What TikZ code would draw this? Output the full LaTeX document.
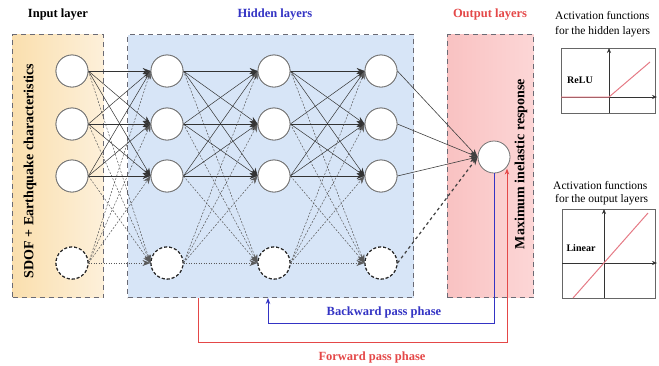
\documentclass[tikz,border=0pt]{standalone}
\usepackage{fontspec}
\setmainfont{Liberation Serif}
\usetikzlibrary{arrows.meta}
\definecolor{inL}{HTML}{FADFAE}
\definecolor{inR}{HTML}{FDF0DA}
\definecolor{hidbg}{HTML}{D7E5F7}
\definecolor{outL}{HTML}{F9C2C2}
\definecolor{outR}{HTML}{FCD6D6}
\definecolor{boxline}{HTML}{6A6A74}
\definecolor{bluel}{HTML}{3434C4}
\definecolor{redl}{HTML}{E44848}
\definecolor{relucol}{HTML}{E57A85}
\tikzset{
  layerbox/.style={draw=boxline, dash pattern=on 5pt off 4pt, line width=1pt, inner sep=0pt, anchor=north west},
  neuron/.style={circle, draw=black!55, fill=white, minimum size=32pt, inner sep=0pt, line width=0.8pt},
  dneuron/.style={circle, draw=black!85, dash pattern=on 3pt off 2pt, fill=white, minimum size=32pt, inner sep=0pt, line width=1.1pt},
  tip/.style={-{Stealth[length=8pt,width=6pt]}},
  sconn/.style={tip, draw=black!80, line width=0.5pt},
  dconn/.style={tip, draw=black!65, line width=0.5pt, dash pattern=on 2pt off 1.5pt},
  ddconn/.style={tip, draw=black!65, line width=0.5pt, dash pattern=on 1pt off 1.5pt},
  oconn/.style={tip, draw=black!75, line width=0.6pt},
  odconn/.style={tip, draw=black!75, line width=1.2pt, dash pattern=on 3pt off 3pt},
  titletxt/.style={font=\fontsize{12.5}{14}\selectfont\bfseries, inner sep=0pt},
  vlabel/.style={font=\fontsize{14}{16}\selectfont\bfseries, inner sep=0pt, rotate=90},
  phase/.style={font=\fontsize{12.5}{14}\selectfont\bfseries, inner sep=0pt},
  acttext/.style={font=\fontsize{11.5}{14}\selectfont, inner sep=0pt, anchor=west},
  actbox/.style={draw=black!60, line width=0.6pt},
  axisline/.style={draw=black!80, line width=0.6pt, -{Stealth[length=5pt,width=4pt]}},
  actlabel/.style={font=\fontsize{10}{12}\selectfont\bfseries, fill=white, inner sep=1pt},
  fbline/.style={line width=0.8pt, -{Stealth[length=6pt,width=4.5pt]}}
}
\begin{document}
\begin{tikzpicture}[x=1pt,y=-1pt]
\useasboundingbox (0,0) rectangle (659,365);
% layer boxes
\node[layerbox, left color=inL, right color=inR, minimum width=91pt, minimum height=263pt] (ibox) at (12,34) {};
\node[layerbox, fill=hidbg, minimum width=286pt, minimum height=263pt] (hbox) at (127,34) {};
\node[layerbox, left color=outL, right color=outR, minimum width=86pt, minimum height=263pt] (obox) at (447,34) {};
% titles
\node[titletxt] (tin) at (58,15) {Input layer};
\node[titletxt, text=bluel] (thid) at (275,15) {Hidden layers};
\node[titletxt, text=redl] (tout) at (490,15) {Output layers};
\node[vlabel] (tsdof) at (30,171) {SDOF + Earthquake characteristics};
\node[vlabel] (tmax) at (521,164) {Maximum inelastic response};
% neurons
\foreach \n/\x in {i/72, a/167, b/274, c/381}{
  \node[neuron] (\n1) at (\x,71) {};
  \node[neuron] (\n2) at (\x,124) {};
  \node[neuron] (\n3) at (\x,176) {};
  \node[dneuron] (\n4) at (\x,263) {};
}
\node[neuron] (o) at (494,157) {};
% connections
\foreach \s/\t in {i/a, a/b, b/c}{
  \foreach \p in {1,2,3,4}{
    \foreach \q in {1,2,3,4}{
      \pgfmathtruncatemacro\kk{(\p==4)+(\q==4)}
      \ifcase\kk
        \draw[sconn] (\s\p.east) -- (\t\q.west);
      \or
        \draw[dconn] (\s\p.east) -- (\t\q.west);
      \or
        \draw[ddconn] (\s\p.east) -- (\t\q.west);
      \fi
    }
  }
}
\foreach \p in {1,2,3}{\draw[oconn] (c\p.east) -- (o.west);}
\draw[odconn] (c4.east) -- (o.west);
% redraw neurons on top
\foreach \n/\x in {i/72, a/167, b/274, c/381}{
  \node[neuron] at (\x,71) {};
  \node[neuron] at (\x,124) {};
  \node[neuron] at (\x,176) {};
  \node[dneuron] at (\x,263) {};
}
% feedback paths
\coordinate (bwend) at (268,0 |- hbox.south);
\coordinate (fwstart) at (198,0 |- hbox.south);
\coordinate (fwend) at (507,0 |- o.south east);
\draw[fbline, draw=bluel] (o.south) -- (494,323) -| (bwend);
\draw[fbline, draw=redl] (fwstart) -- (198,342) -| (fwend);
\node[phase, text=bluel] (bwl) at (384,312) {Backward pass phase};
\node[phase, text=redl] (fwl) at (372,357) {Forward pass phase};
% activation panels
\node[acttext] (act1a) at (555,16) {Activation functions};
\node[acttext] (act1b) at (555,32) {for the hidden layers};
\draw[actbox] (561,48) rectangle (655,113);
\draw[axisline] (609,113) -- (609,48);
\draw[axisline] (561,97) -- (657,97);
\draw[relucol, line width=1pt] (561,97) -- (609,97) -- (650,62);
\node[actlabel] (lrelu) at (580,80) {ReLU};
\node[acttext] (act2a) at (553,186) {Activation functions};
\node[acttext] (act2b) at (555,200) {for the output layers};
\draw[actbox] (562,209) rectangle (655,298);
\draw[axisline] (604,298) -- (604,209);
\draw[axisline] (562,263) -- (657,263);
\draw[relucol, line width=1pt] (573,298) -- (648,213);
\node[actlabel] (llin) at (581,248) {Linear};
\end{tikzpicture}
\end{document}
